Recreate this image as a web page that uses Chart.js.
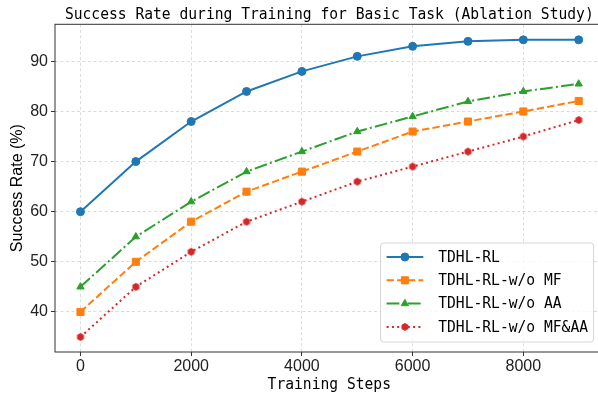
<!DOCTYPE html>
<html>
<head>
<meta charset="utf-8">
<script src="https://cdn.jsdelivr.net/npm/chart.js@4"></script>
<style>
html, body { margin: 0; padding: 0; overflow: hidden; background: #fff; }
#wrap { width: 610px; height: 397px; position: relative; }
</style>
</head>
<body>
<div id="wrap"><canvas id="chart"></canvas></div>
<script>
const steps = [0, 1000, 2000, 3000, 4000, 5000, 6000, 7000, 8000, 9000];
const tdhl = [60, 70, 78, 84, 88, 91, 93, 94, 94.3, 94.3];
const woMF = [40, 50, 58, 64, 68, 72, 76, 78, 80, 82.1];
const woAA = [45, 55, 62, 68, 72, 76, 79, 82, 84, 85.5];
const woMFAA = [35, 45, 52, 58, 62, 66, 69, 72, 75, 78.3];
const seriesNames = ['TDHL-RL', 'TDHL-RL-w/o MF', 'TDHL-RL-w/o AA', 'TDHL-RL-w/o MF&AA'];
const xTicks = [0, 2000, 4000, 6000, 8000];
const yTicks = [40, 50, 60, 70, 80, 90];

const MONO = '"DejaVu Sans Mono", "Liberation Mono", monospace';
const SANS = '"Liberation Sans", Arial, sans-serif';

// hexagon marker like matplotlib 'h'
function hexMarker(color, r) {
    const c = document.createElement('canvas');
    const s = Math.ceil(r * 2 + 2);
    c.width = s; c.height = s;
    const g = c.getContext('2d');
    g.fillStyle = color;
    g.beginPath();
    for (let i = 0; i < 6; i++) {
        const a = -Math.PI / 2 + i * Math.PI / 3;
        g.lineTo(s / 2 + r * Math.cos(a), s / 2 + r * Math.sin(a));
    }
    g.closePath();
    g.fill();
    return c;
}

// the reference font is tall and narrow, so draw mono text a bit squeezed
function narrowText(ctx, text, x, y, align, baseline) {
    ctx.save();
    ctx.font = '16px ' + MONO;
    ctx.textAlign = align;
    ctx.textBaseline = baseline;
    ctx.translate(x, y);
    ctx.scale(0.915, 1);
    ctx.fillText(text, 0, 0);
    ctx.restore();
}

function pts(ys) {
    return ys.map((y, i) => ({ x: steps[i], y: y }));
}

function makeSet(label, ys, color, dash, style, radius) {
    return {
        label: label,
        data: pts(ys),
        borderColor: color,
        backgroundColor: color,
        borderWidth: 2,
        borderDash: dash,
        borderCapStyle: 'butt',
        pointStyle: style,
        pointRadius: radius,
        pointHoverRadius: radius,
        pointBackgroundColor: color,
        pointBorderColor: color,
        pointBorderWidth: 1,
        tension: 0,
        fill: false
    };
}

const datasets = [
    makeSet(seriesNames[0], tdhl, '#1f77b4', [], 'circle', 4),
    makeSet(seriesNames[1], woMF, '#ff7f0e', [7.4, 3.2], 'rect', 5),
    makeSet(seriesNames[2], woAA, '#2ca02c', [12.8, 3.2, 2, 3.2], 'triangle', 4.2),
    makeSet(seriesNames[3], woMFAA, '#d62728', [2, 3.3], hexMarker('#d62728', 4), 4)
];

const framePlugin = {
    id: 'frame',
    beforeDatasetsDraw(chart) {
        const { ctx, chartArea: a } = chart;
        ctx.save();
        ctx.strokeStyle = '#333';
        ctx.lineWidth = 1;
        ctx.strokeRect(a.left, a.top, a.right - a.left, a.bottom - a.top);
        ctx.restore();
    }
};

const titlePlugin = {
    id: 'topTitle',
    afterDraw(chart) {
        const { ctx, chartArea: a } = chart;
        ctx.fillStyle = '#000';
        narrowText(ctx, 'Success Rate during Training for Basic Task (Ablation Study)',
            (a.left + a.right) / 2, 18.5, 'center', 'alphabetic');
        narrowText(ctx, 'Training Steps', (a.left + a.right) / 2, 389.3, 'center', 'alphabetic');
    }
};

const legendPlugin = {
    id: 'boxLegend',
    afterDatasetsDraw(chart) {
        const { ctx, chartArea: a } = chart;
        const w = 213, h = 99, r = 3;
        const x0 = a.right - 10 - w, y0 = a.bottom - 10 - h;
        ctx.save();
        ctx.beginPath();
        ctx.moveTo(x0 + r, y0);
        ctx.arcTo(x0 + w, y0, x0 + w, y0 + h, r);
        ctx.arcTo(x0 + w, y0 + h, x0, y0 + h, r);
        ctx.arcTo(x0, y0 + h, x0, y0, r);
        ctx.arcTo(x0, y0, x0 + w, y0, r);
        ctx.closePath();
        ctx.fillStyle = 'rgba(255,255,255,0.8)';
        ctx.fill();
        ctx.strokeStyle = '#d6d6d6';
        ctx.lineWidth = 1;
        ctx.stroke();

        chart.data.datasets.forEach((ds, i) => {
            const y = y0 + 14 + i * 23.3;
            ctx.save();
            ctx.strokeStyle = ds.borderColor;
            ctx.lineWidth = ds.borderWidth;
            ctx.setLineDash(ds.borderDash);
            ctx.lineCap = 'butt';
            ctx.beginPath();
            ctx.moveTo(x0 + 6, y);
            ctx.lineTo(x0 + 42.7, y);
            ctx.stroke();
            ctx.setLineDash([]);
            ctx.fillStyle = ds.pointBackgroundColor;
            ctx.strokeStyle = ds.pointBorderColor;
            ctx.lineWidth = ds.pointBorderWidth;
            Chart.helpers.drawPoint(ctx, {
                pointStyle: ds.pointStyle, radius: ds.pointRadius, rotation: 0, borderWidth: ds.pointBorderWidth
            }, x0 + 24.3, y);
            ctx.restore();

            ctx.fillStyle = '#000';
            narrowText(ctx, ds.label, x0 + 57.6, y + 0.5, 'left', 'middle');
        });
        ctx.restore();
    }
};

new Chart(document.getElementById('chart'), {
    type: 'line',
    data: { datasets: datasets },
    options: {
        responsive: true,
        maintainAspectRatio: false,
        animation: false,
        devicePixelRatio: 1,
        layout: { padding: { top: 24.3, right: 6.4, bottom: 0, left: 0 } },
        plugins: {
            legend: { display: false },
            title: { display: false },
            tooltip: { enabled: false }
        },
        scales: {
            x: {
                type: 'linear',
                min: -460,
                max: 9450,
                afterFit: s => { s.height = 45; },
                afterBuildTicks: s => { s.ticks = xTicks.map(v => ({ value: v })); },
                ticks: {
                    color: '#222',
                    font: { family: SANS, size: 16 },
                    padding: 1,
                    maxRotation: 0,
                    callback: v => String(v)
                },
                grid: {
                    color: 'rgba(0,0,0,0.18)',
                    lineWidth: 0.8,
                    tickLength: 4,
                    tickColor: '#333',
                    tickWidth: 1,
                    tickBorderDash: []
                },
                border: { display: false, dash: [3, 2.5] }
            },
            y: {
                type: 'linear',
                min: 32.0,
                max: 97.4,
                afterFit: s => { s.width = 55; },
                afterBuildTicks: s => { s.ticks = yTicks.map(v => ({ value: v })); },
                ticks: {
                    color: '#222',
                    font: { family: SANS, size: 16 },
                    padding: 3,
                    callback: v => String(v)
                },
                grid: {
                    color: 'rgba(0,0,0,0.18)',
                    lineWidth: 0.8,
                    tickLength: 4,
                    tickColor: '#333',
                    tickWidth: 1,
                    tickBorderDash: []
                },
                border: { display: false, dash: [3, 2.5] },
                title: {
                    display: true,
                    text: 'Success Rate (%)',
                    color: '#000',
                    font: { family: SANS, size: 16 },
                    padding: { top: 8, bottom: 0 }
                }
            }
        }
    },
    plugins: [framePlugin, legendPlugin, titlePlugin]
});
</script>
</body>
</html>
